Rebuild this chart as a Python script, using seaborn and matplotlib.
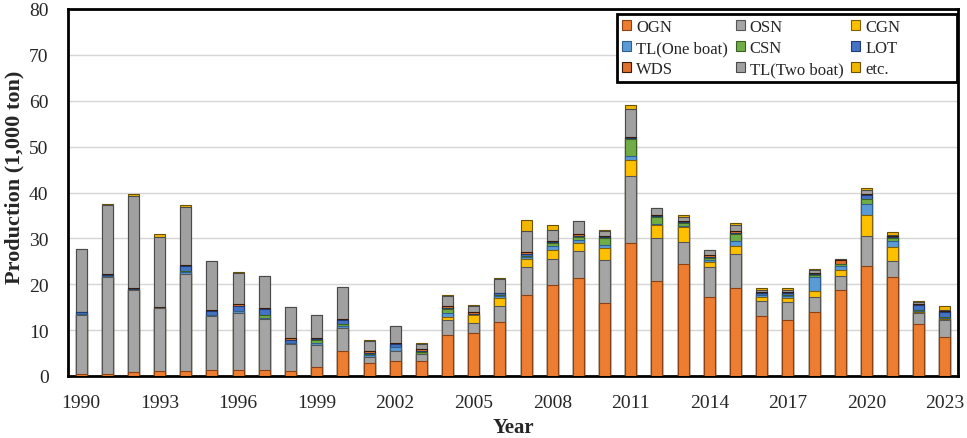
import numpy as np
import pandas as pd
import matplotlib
matplotlib.use("Agg")
import matplotlib.pyplot as plt
import seaborn as sns
from matplotlib.patches import Patch, Rectangle

years = list(range(1990, 2024))
series_names = ["OGN", "OSN", "CGN", "TL(One boat)", "CSN", "LOT", "WDS", "TL(Two boat)", "etc."]

OGN = [0.5, 0.4, 0.8, 1.0, 1.0, 1.4, 1.4, 1.2, 1.0, 1.9, 5.4, 2.8, 3.2, 3.2, 9.0, 9.4, 11.8,
       17.6, 19.8, 21.4, 15.9, 28.9, 20.6, 24.5, 17.3, 19.1, 13.1, 12.3, 13.9, 18.7, 24.0, 21.5, 11.3, 8.6]
OSN = [12.8, 21.1, 18.0, 13.8, 21.3, 11.6, 12.4, 11.2, 6.0, 4.9, 5.0, 1.3, 2.3, 1.7, 3.1, 2.1, 3.5,
       6.1, 5.8, 5.9, 9.4, 14.6, 9.4, 4.8, 6.4, 7.5, 3.3, 3.9, 3.4, 3.0, 6.6, 3.6, 2.4, 3.5]
CGN = [0.0, 0.0, 0.0, 0.0, 0.0, 0.0, 0.0, 0.0, 0.0, 0.0, 0.0, 0.0, 0.0, 0.0, 0.8, 1.8, 1.8,
       1.8, 1.9, 1.8, 2.7, 3.6, 2.9, 3.1, 1.2, 1.7, 0.9, 0.9, 1.3, 1.5, 4.5, 3.1, 0.2, 0.3]
TL_ONE = [0.3, 0.2, 0.0, 0.0, 0.3, 0.2, 0.3, 0.2, 0.3, 0.5, 0.5, 0.4, 0.9, 0.0, 0.8, 0.1, 0.4,
          0.5, 0.9, 0.5, 0.5, 0.9, 0.3, 0.2, 0.4, 1.2, 0.3, 0.4, 2.9, 0.8, 2.4, 1.2, 0.3, 0.3]
CSN = [0.0, 0.0, 0.0, 0.0, 0.3, 0.0, 0.0, 0.6, 0.0, 0.5, 0.4, 0.2, 0.0, 0.3, 1.0, 0.0, 0.1,
       0.2, 0.7, 0.8, 1.6, 3.6, 1.4, 0.8, 0.5, 1.5, 0.1, 0.2, 0.5, 0.4, 1.1, 0.6, 0.2, 0.1]
LOT = [0.3, 0.4, 0.2, 0.1, 1.0, 1.0, 1.2, 1.5, 0.6, 0.3, 0.9, 0.4, 0.6, 0.3, 0.2, 0.2, 0.4,
       0.3, 0.1, 0.2, 0.2, 0.2, 0.2, 0.1, 0.2, 0.2, 0.3, 0.3, 0.2, 0.1, 0.8, 0.2, 1.0, 1.1]
WDS = [0.1, 0.2, 0.2, 0.2, 0.2, 0.2, 0.3, 0.2, 0.3, 0.2, 0.2, 0.3, 0.2, 0.4, 0.3, 0.3, 0.2,
       0.6, 0.3, 0.4, 0.2, 0.3, 0.2, 0.3, 0.3, 0.3, 0.3, 0.3, 0.2, 0.7, 0.3, 0.3, 0.4, 0.3]
TL_TWO = [13.6, 15.0, 20.0, 15.2, 12.8, 10.6, 6.9, 6.8, 6.8, 5.1, 7.0, 2.3, 3.7, 1.1, 2.3, 1.4, 3.0,
          4.6, 2.4, 2.7, 1.0, 6.2, 1.6, 0.9, 1.1, 1.5, 0.4, 0.5, 0.6, 0.3, 0.8, 0.3, 0.3, 0.2]
ETC = [0.1, 0.1, 0.4, 0.6, 0.4, 0.1, 0.2, 0.0, 0.0, 0.0, 0.1, 0.1, 0.1, 0.1, 0.1, 0.1, 0.2,
       2.4, 1.1, 0.1, 0.3, 0.7, 0.1, 0.5, 0.1, 0.3, 0.4, 0.4, 0.3, 0.1, 0.4, 0.6, 0.3, 0.8]

values = [OGN, OSN, CGN, TL_ONE, CSN, LOT, WDS, TL_TWO, ETC]
colors = ["#ED7D31", "#A5A5A5", "#FFC000", "#5B9BD5", "#70AD47", "#4472C4", "#E0702A", "#A0A0A0", "#F2B600"]
edges = ["#8A4215", "#555555", "#806000", "#2E5F8E", "#3A5F22", "#1F3B70", "#3A1A05", "#4A4A4A", "#6B5200"]

sns.set_theme(style="white")
plt.rcParams["font.family"] = ["Liberation Serif", "DejaVu Serif"]

W, H = 967, 439
fig = plt.figure(figsize=(W / 100, H / 100), dpi=100)
ax = fig.add_axes([68 / W, 1 - 377 / H, (958 - 68) / W, (377 - 10) / H])

ylabels = [str(y) for y in years]
cum = np.cumsum(np.array(values), axis=0)
for i in range(len(series_names) - 1, -1, -1):
    df = pd.DataFrame({"Year": ylabels, "v": cum[i]})
    sns.barplot(data=df, x="Year", y="v", order=ylabels, color=colors[i], saturation=1,
                edgecolor=edges[i], linewidth=0.8, width=0.42, ax=ax, zorder=3)

ax.set_ylim(0, 80)
ax.set_xlim(-0.5, len(years) - 0.5)
ax.set_yticks(range(0, 81, 10))
ax.set_xticks(range(0, len(years), 3))
ax.set_xticklabels([ylabels[k] for k in range(0, len(years), 3)])
ax.tick_params(axis="x", length=0, labelsize=14, pad=13)
ax.tick_params(axis="y", length=0, labelsize=14, pad=14)
ax.yaxis.grid(True, color="#d6d6d6", linewidth=1, zorder=0)
ax.set_axisbelow(True)
for s in ax.spines.values():
    s.set_visible(True)
    s.set_color("black")
    s.set_linewidth(2)

ax.set_ylabel("Production (1,000 ton)", fontsize=16, fontweight="bold")
ax.yaxis.set_label_coords((14 - 68) / (958 - 68), (377 - 177) / (377 - 10))
ax.yaxis.label.set_va("center")
ax.set_xlabel("Year", fontsize=15, fontweight="bold")
ax.xaxis.set_label_coords(0.5, -(428 - 377) / (377 - 10))
ax.xaxis.label.set_va("center")

order = [0, 3, 6, 1, 4, 7, 2, 5, 8]
handles = [Patch(facecolor=colors[k], edgecolor=edges[k], linewidth=0.8, label=series_names[k]) for k in order]
leg = fig.legend(handles=handles, ncol=3, loc="upper left", bbox_to_anchor=(618 / W, 1 - 16 / H),
                 fontsize=12, frameon=False, borderpad=0.25, labelspacing=0.3,
                 handlelength=0.55, handleheight=0.55, handletextpad=0.3, columnspacing=0.45,
                 borderaxespad=0)
fig.patches.append(Rectangle((617 / W, 1 - 83 / H), 340 / W, 68 / H, transform=fig.transFigure,
                             facecolor="white", edgecolor="black", linewidth=2, zorder=4))
leg.set_zorder(5)

fig.savefig("out.png", dpi=100)
